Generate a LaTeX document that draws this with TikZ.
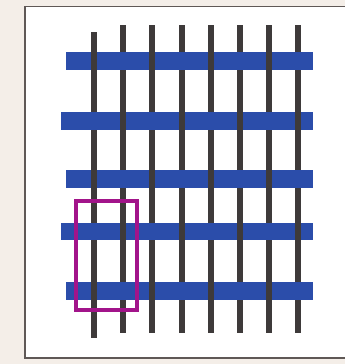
\documentclass[tikz,border=0pt]{standalone}
\definecolor{bgbeige}{RGB}{244,238,232}
\definecolor{framegray}{RGB}{95,88,86}
\definecolor{weftblue}{RGB}{43,77,170}
\definecolor{warpgray}{RGB}{62,58,58}
\definecolor{boxmagenta}{RGB}{162,20,138}
\tikzset{
  warp/.style={fill=warpgray},
  weft/.style={fill=weftblue},
  repeatbox/.style={draw=boxmagenta,line width=4.2}
}
\begin{document}
\begin{tikzpicture}[x=1pt,y=-1pt]
\useasboundingbox (0,0) rectangle (345,364);
\clip (0,0) rectangle (345,364);
\fill[bgbeige] (0,0) rectangle (345,364);
\draw[framegray,fill=white,line width=1.6] (25,6.5) rectangle (360,358);
% warp (vertical) threads
\foreach \k in {0,...,7}{
  \pgfmathsetmacro{\xc}{94+29.2*\k}
  \ifnum\k=0
    \fill[warp] (\xc-3,31.5) rectangle (\xc+3,338);
  \else
    \fill[warp] (\xc-3,25) rectangle (\xc+3,333);
  \fi
}
% weft (horizontal) threads
\foreach \yc/\xl [count=\r] in {61/66,121/60.5,179/66,231.5/60.5,291/66}{
  \fill[weft] (\xl,\yc-8.7) rectangle (312.7,\yc+8.7);
  \foreach \k in {0,...,7}{
    \pgfmathtruncatemacro{\parity}{mod(\r+\k,2)}
    \ifnum\parity=1
      \pgfmathsetmacro{\xc}{94+29.2*\k}
      \fill[warp] (\xc-3,\yc-8.7) rectangle (\xc+3,\yc+8.7);
    \fi
  }
}
% repeat unit
\draw[repeatbox] (75.7,200.7) rectangle (137.2,309.7);
\end{tikzpicture}
\end{document}
